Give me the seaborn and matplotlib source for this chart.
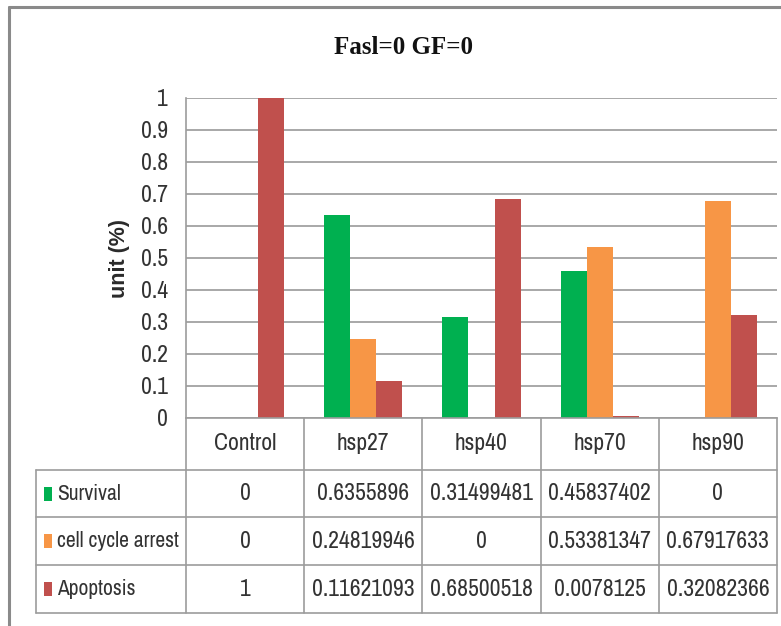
import numpy as np
import pandas as pd
import matplotlib
matplotlib.use("Agg")
import matplotlib.pyplot as plt
import seaborn as sns
from matplotlib.lines import Line2D
from matplotlib.patches import Rectangle
from matplotlib import font_manager
from matplotlib.font_manager import FontProperties

# ---- data -------------------------------------------------------------
categories = ["Control", "hsp27", "hsp40", "hsp70", "hsp90"]
series = ["Survival", "cell cycle arrest", "Apoptosis"]
survival = [0, 0.6355896, 0.31499481, 0.45837402, 0]
cell_cycle_arrest = [0, 0.24819946, 0, 0.53381347, 0.67917633]
apoptosis = [1, 0.11621093, 0.68500518, 0.0078125, 0.32082366]
y_ticks = [0, 0.1, 0.2, 0.3, 0.4, 0.5, 0.6, 0.7, 0.8, 0.9, 1]
y_tick_labels = ["0", "0.1", "0.2", "0.3", "0.4", "0.5", "0.6", "0.7", "0.8", "0.9", "1"]
title = "Fasl=0 GF=0"
y_label = "unit (%)"
colors = ["#00B050", "#F79646", "#C0504D"]

values = [survival, cell_cycle_arrest, apoptosis]
df = pd.DataFrame(
    [(c, s, v) for s, vals in zip(series, values) for c, v in zip(categories, vals)],
    columns=["category", "series", "value"],
)

# ---- fonts ------------------------------------------------------------
sns.set_theme(style="white")
plt.rcParams["font.family"] = ["Liberation Sans", "DejaVu Sans"]


def _is_regular(f):
    return f.style == "normal" and f.weight in (400, "normal", "regular", "book")


def find_condensed():
    entries = font_manager.fontManager.ttflist
    for f in entries:
        if "Narrow" in f.name and _is_regular(f):
            return f.fname
    for fam in ["Noto Sans", "Open Sans", "Roboto", "DejaVu Sans", "Lato", "Inter"]:
        for f in entries:
            if f.name == fam and _is_regular(f) and f.stretch in ("condensed", "semi-condensed"):
                return f.fname
    for f in entries:
        if "Condensed" in f.name and _is_regular(f):
            return f.fname
    return None


cond_file = find_condensed()


def body_font(size=17):
    if cond_file:
        return FontProperties(fname=cond_file, size=size)
    return FontProperties(family=["Liberation Sans", "DejaVu Sans"], size=size * 0.84)


W, H = 781, 626
fig = plt.figure(figsize=(W / 100, H / 100), dpi=100)
fig.patch.set_facecolor("white")


def fx(x):
    return x / W


def fy(y):
    return 1 - y / H


line_col = "#9c9c9c"
text_col = "#333333"

# ---- bars ---------------------------------------------------------------
ax = fig.add_axes([fx(186), fy(418), (777 - 186) / W, (418 - 98) / H])
sns.barplot(
    data=df, x="category", y="value", hue="series",
    order=categories, hue_order=series, palette=colors,
    width=0.66, saturation=1, linewidth=0, legend=False, ax=ax,
)
ax.set_xlim(-0.5, len(categories) - 0.5)
ax.set_ylim(0, 1)
ax.set_yticks(y_ticks)
ax.set_yticklabels(y_tick_labels, color=text_col)
for lab in ax.get_yticklabels():
    lab.set_fontproperties(body_font(17))
ax.tick_params(axis="y", length=0, pad=13)
ax.set_xticks([])
ax.set_xlabel("")
ax.set_ylabel("")
ax.yaxis.grid(True, color="#a8a8a8", lw=1.4)
ax.set_axisbelow(True)
for side in ["top", "right"]:
    ax.spines[side].set_visible(False)
for side in ["left", "bottom"]:
    ax.spines[side].set_color(line_col)
    ax.spines[side].set_linewidth(1.2)

# title and axis label
fig.text(fx(404), fy(48), title, ha="center", va="center",
         fontsize=18, fontweight="bold", family=["Liberation Serif", "DejaVu Serif"],
         color="#111111")
fig.text(fx(120), fy(258), y_label, ha="center", va="center", rotation=90,
         fontsize=15.5, fontweight="bold", family=["Liberation Sans", "DejaVu Sans"],
         color="#2a2a2a")

# ---- data table below the axis ----------------------------------------
fig.canvas.draw()
cat_centers = [ax.transData.transform((i, 0))[0] for i in range(len(categories))]
boundaries = [ax.transData.transform((b, 0))[0]
              for b in np.arange(-0.5, len(categories), 1.0)]

row_edges = [418, 470, 517, 565, 613]
left_edge = 36


def hline(y, x0, x1):
    fig.add_artist(Line2D([x0 / W, x1 / W], [fy(y), fy(y)], color=line_col, lw=1.2))


def vline(x, y0, y1):
    fig.add_artist(Line2D([x / W, x / W], [fy(y0), fy(y1)], color=line_col, lw=1.2))


for y in row_edges[1:]:
    hline(y, left_edge, boundaries[-1])
vline(left_edge, row_edges[1], row_edges[-1])
for b in boundaries:
    vline(b, row_edges[0], row_edges[-1])

# header row: category names
header_y = (row_edges[0] + row_edges[1]) / 2
for cx, name in zip(cat_centers, categories):
    fig.text(cx / W, fy(header_y), name, ha="center", va="center",
             fontproperties=body_font(17), color=text_col)

# value rows with legend keys
for r, (name, vals, col) in enumerate(zip(series, values, colors)):
    yc = (row_edges[r + 1] + row_edges[r + 2]) / 2
    fig.add_artist(Rectangle((fx(44), fy(yc + 7)), 8 / W, 14 / H,
                             facecolor=col, edgecolor="none"))
    fig.text(fx(57), fy(yc), name, ha="left", va="center",
             fontproperties=body_font(15.5), color=text_col)
    for cx, v in zip(cat_centers, vals):
        fig.text(cx / W, fy(yc), np.format_float_positional(float(v), trim="-"),
                 ha="center", va="center", fontproperties=body_font(17), color=text_col)

# outer chart frame
fig.add_artist(Line2D([fx(9), fx(781)], [fy(7), fy(7)], color="#8a8a8a", lw=2.2))
fig.add_artist(Line2D([fx(9), fx(9)], [fy(7), fy(626)], color="#8a8a8a", lw=2.2))

fig.savefig("out.png", dpi=100, facecolor="white")
